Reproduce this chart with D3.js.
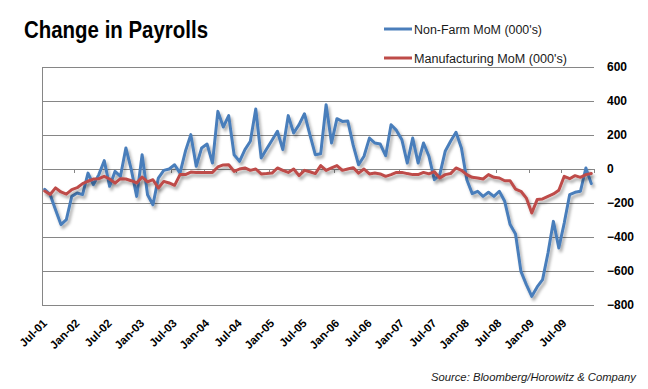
<!DOCTYPE html>
<html><head><meta charset="utf-8">
<script src="https://cdn.jsdelivr.net/npm/d3@7"></script>
<style>
html,body{margin:0;padding:0;background:#fff;}
svg{display:block;}
</style></head><body>
<svg id="chart" width="648" height="389"></svg>
<script>
// ---- data (monthly, Jul-01 .. Dec-09) ----
const tickLabels = ["Jul-01","Jan-02","Jul-02","Jan-03","Jul-03","Jan-04","Jul-04","Jan-05","Jul-05",
  "Jan-06","Jul-06","Jan-07","Jul-07","Jan-08","Jul-08","Jan-09","Jul-09"];
const yTicks = [-800,-600,-400,-200,0,200,400,600];
const seriesNames = ["Non-Farm MoM (000's)","Manufacturing MoM (000's)"];
const nonFarm = [
  -120,-150,-240,-327,-298,-161,
  -141,-151,-24,-92,-33,49,-102,-14,-43,124,-4,-161,
  84,-151,-210,-53,-8,0,25,-24,104,202,16,124,
  147,35,339,247,314,84,45,114,163,353,65,118,
  169,222,114,314,212,261,325,202,84,90,378,153,
  296,280,283,140,25,75,182,153,147,78,260,227,
  172,35,182,35,153,75,-63,-33,104,163,216,124,
  -63,-145,-131,-161,-137,-161,-131,-190,-327,-382,-602,-680,
  -749,-694,-651,-494,-308,-465,-318,-151,-137,-131,6,-86
];
const manufacturing = [
  -130,-150,-111,-135,-148,-121,
  -110,-86,-72,-59,-57,-43,-59,-83,-57,-59,-69,-82,
  -47,-76,-63,-112,-73,-82,-96,-33,-33,-18,-20,-20,
  -20,-20,12,24,25,-14,0,6,-8,0,-29,-27,
  -24,6,-8,-20,0,-39,-8,-16,-27,20,-8,6,
  20,-8,0,8,-24,0,-29,-24,-29,-43,-33,-20,
  -20,-27,-33,-33,-20,-29,-16,-53,-33,-27,6,-8,
  -33,-49,-53,-59,-33,-49,-53,-69,-69,-118,-131,-171,
  -259,-180,-176,-161,-147,-125,-43,-57,-39,-49,-33,-27
];
const colors = ["#4A7EBB","#BE4B48"];

// ---- categories ----
const fmt = d3.utcFormat("%b-%y");
const categories = d3.utcMonth.range(new Date(Date.UTC(2001,6,1)), new Date(Date.UTC(2010,0,1))).map(fmt);

const svg = d3.select("#chart");
const pLeft = 42, pRight = 594, pTop = 67, pBottom = 305;
const x = d3.scaleBand().domain(categories).range([pLeft, pRight]).padding(0);
const y = d3.scaleLinear().domain([-800, 600]).range([pBottom, pTop]);
const cx = d => x(d) + x.bandwidth() / 2;
const FONT = "'Liberation Sans', Arial, sans-serif";

const defs = svg.append("defs");
const f = defs.append("filter").attr("id","shadow").attr("filterUnits","userSpaceOnUse")
  .attr("x",0).attr("y",0).attr("width",648).attr("height",389);
f.append("feDropShadow").attr("dx",2).attr("dy",3).attr("stdDeviation",1.6)
  .attr("flood-color","#000").attr("flood-opacity",0.33);

// gridlines
svg.append("g").selectAll("line").data(yTicks).join("line")
  .attr("x1", pLeft).attr("x2", pRight)
  .attr("y1", d => y(d)).attr("y2", d => y(d))
  .attr("stroke", "#868686").attr("stroke-width", 1).attr("shape-rendering","crispEdges");
// left axis line
svg.append("line").attr("x1", pLeft).attr("x2", pLeft).attr("y1", y(600)).attr("y2", y(-800))
  .attr("stroke", "#868686").attr("shape-rendering","crispEdges");
// tick marks on the zero line at 6-month boundaries
const tickCats = tickLabels.filter(d => d !== categories[0]);
const tickXs = tickCats.map(d => x(d)).concat([pRight]);
svg.append("g").selectAll("line").data(tickXs).join("line")
  .attr("x1", d => d).attr("x2", d => d)
  .attr("y1", y(0)).attr("y2", y(0) + 4)
  .attr("stroke", "#868686").attr("shape-rendering","crispEdges");

// right value labels
const ya = svg.append("g").attr("transform", `translate(${pRight},0)`)
  .call(d3.axisRight(y).tickValues(yTicks).tickSize(0).tickPadding(13).tickFormat(d3.format("d")));
ya.select(".domain").remove();
ya.selectAll("text").attr("font-family", FONT).attr("font-size", 12).attr("font-weight", "bold").attr("fill", "#000");

// category labels
const xa = svg.append("g").attr("transform", `translate(0,${pBottom + 18})`)
  .call(d3.axisBottom(x).tickValues(tickLabels).tickSize(0));
xa.select(".domain").remove();
xa.selectAll("text").attr("font-family", FONT).attr("font-size", 11.5).attr("font-weight", "bold")
  .attr("fill", "#000").attr("text-anchor", "end")
  .attr("x", 0).attr("y", 0).attr("dy", 0)
  .attr("transform", "translate(3,1) rotate(-45)");

// series lines
const line = d3.line().x((d, i) => cx(categories[i])).y(d => y(d));
[nonFarm, manufacturing].forEach((s, k) => {
  svg.append("path").datum(s).attr("d", line)
    .attr("fill", "none").attr("stroke", colors[k]).attr("stroke-width", 3)
    .attr("stroke-linejoin", "round").attr("stroke-linecap", "round")
    .attr("filter", "url(#shadow)");
});

// title
svg.append("text").attr("x", 24).attr("y", 38).text("Change in Payrolls")
  .attr("font-family", FONT).attr("font-size", 23).attr("font-weight", "bold").attr("fill", "#000")
  .attr("textLength", 184).attr("lengthAdjust", "spacingAndGlyphs");

// legend
const legY = [29, 58];
const legW = [128, 153];
seriesNames.forEach((n, k) => {
  svg.append("line").attr("x1", 384).attr("x2", 412).attr("y1", legY[k]).attr("y2", legY[k])
    .attr("stroke", colors[k]).attr("stroke-width", 3);
  svg.append("text").attr("x", 414).attr("y", legY[k] + 4.5).text(n)
    .attr("font-family", FONT).attr("font-size", 12.5).attr("fill", "#1a1a1a")
    .attr("textLength", legW[k]).attr("lengthAdjust", "spacingAndGlyphs");
});

// source
svg.append("text").attr("x", 431).attr("y", 381).text("Source: Bloomberg/Horowitz & Company")
  .attr("font-family", FONT).attr("font-size", 11.5).attr("font-style", "italic").attr("fill", "#1a1a1a")
  .attr("textLength", 205).attr("lengthAdjust", "spacingAndGlyphs");
</script>
</body></html>
